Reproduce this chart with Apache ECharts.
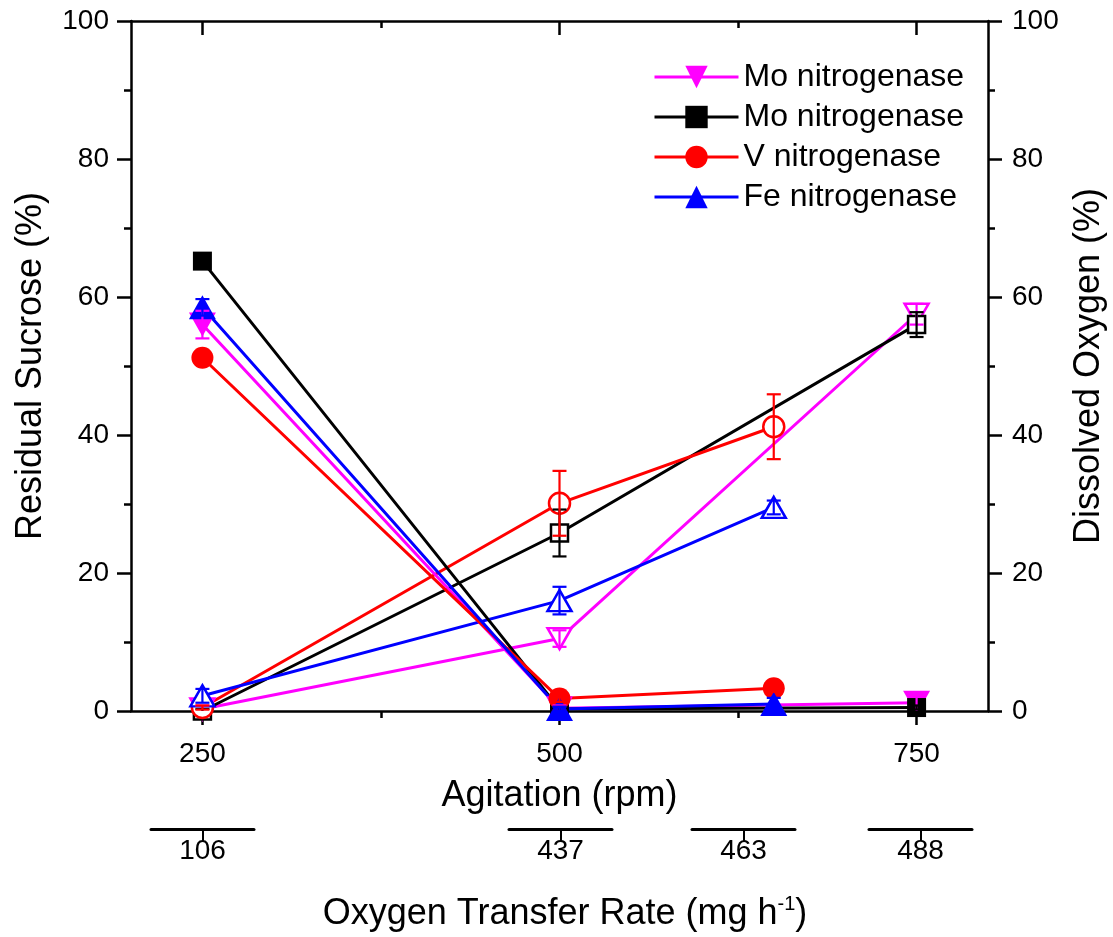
<!DOCTYPE html>
<html>
<head>
<meta charset="utf-8">
<script src="https://cdn.jsdelivr.net/npm/echarts@6/dist/echarts.min.js"></script>
<style>
  html, body { margin: 0; padding: 0; background: #fff; }
  #chart { width: 1113px; height: 937px; }
</style>
</head>
<body>
<div id="chart"></div>
<script>
// Agitation speeds (rpm) at which each culture was sampled
const rpmMoA = [250, 500, 750];
const rpmMoB = [250, 500, 750];
const rpmV   = [250, 500, 650];
const rpmFe  = [250, 500, 650];

// Residual sucrose (%), filled markers, left axis
const sucroseMoA = [56.0, 0.4, 1.2];
const sucroseMoB = [65.2, 0.3, 0.5];
const sucroseV   = [51.2, 1.8, 3.3];
const sucroseFe  = [58.5, 0.3, 1.0];
const sucroseErrMoA = [2.0, 0.4, 1.5];
const sucroseErrMoB = [0.8, 0.3, 0.3];
const sucroseErrV   = [0.5, 0.5, 0.5];
const sucroseErrFe  = [1.2, 0.3, 0.9];

// Dissolved oxygen (%), open markers, right axis
const oxygenMoA = [0.3, 10.5, 57.5];
const oxygenMoB = [0.0, 25.8, 56.0];
const oxygenV   = [0.5, 30.1, 41.2];
const oxygenFe  = [2.2, 16.0, 29.5];
const oxygenErrMoA = [0.5, 1.2, 1.5];
const oxygenErrMoB = [0.3, 3.4, 1.8];
const oxygenErrV   = [0.3, 4.7, 4.7];
const oxygenErrFe  = [1.0, 2.0, 1.0];

// Axis ticks
const rpmMajorTicks = [250, 500, 750];
const rpmMinorTicks = [375, 625];
const otrLabels = ['106', '437', '463', '488'];

const FONT = "'Liberation Sans', Arial, sans-serif";
const AXIS_W = 2.5;
const LINE_W = 3;

function pairs(xs, ys) { return xs.map((x, i) => [x, ys[i]]); }

function lineSeries(name, xs, ys, color, symbol, size, rotate, filled, yAxisIndex, z) {
  return {
    type: 'line', name, xAxisIndex: 0, yAxisIndex,
    data: pairs(xs, ys),
    symbol, symbolSize: size, symbolRotate: rotate,
    showAllSymbol: true,
    lineStyle: { color, width: LINE_W },
    itemStyle: filled
      ? { color, borderWidth: 0 }
      : { color: '#fff', borderColor: color, borderWidth: 2.5 },
    emphasis: { disabled: true },
    z, silent: true, clip: false
  };
}

function errorSeries(xs, ys, errs, color, yAxisIndex, z) {
  return {
    type: 'custom', xAxisIndex: 0, yAxisIndex,
    data: xs.map((x, i) => [x, ys[i] - errs[i], ys[i] + errs[i]]),
    encode: { x: 0, y: [1, 2] },
    clip: true, silent: true, z,
    renderItem(params, api) {
      const lo = api.coord([api.value(0), api.value(1)]);
      const hi = api.coord([api.value(0), api.value(2)]);
      const w = 7;
      const st = { stroke: color, lineWidth: 2.2 };
      return {
        type: 'group',
        children: [
          { type: 'line', shape: { x1: lo[0], y1: lo[1], x2: hi[0], y2: hi[1] }, style: st },
          { type: 'line', shape: { x1: lo[0] - w, y1: lo[1], x2: lo[0] + w, y2: lo[1] }, style: st },
          { type: 'line', shape: { x1: hi[0] - w, y1: hi[1], x2: hi[0] + w, y2: hi[1] }, style: st }
        ]
      };
    }
  };
}

const MAGENTA = '#ff00ff', BLACK = '#000000', RED = '#ff0000', BLUE = '#0000ff';

const baseX = {
  gridIndex: 0, type: 'value', min: 200, max: 800,
  splitLine: { show: false },
  axisLine: { show: true, onZero: false, lineStyle: { color: '#000', width: AXIS_W } }
};

// Oxygen transfer rate scale: short separate segments, one per label
const otrGridLefts = [151, 509, 692, 869];
const otrGrids = otrGridLefts.map(l => ({ left: l, width: 103, top: 828, height: 1, outerBoundsMode: 'none' }));
const otrXAxes = otrLabels.map((lab, i) => ({
  gridIndex: i + 1, type: 'category', data: [lab], boundaryGap: true,
  axisLine: { show: true, onZero: false, lineStyle: { color: '#000', width: 3 } },
  axisTick: { show: true, alignWithLabel: true, length: 12, lineStyle: { color: '#000', width: 2 } },
  axisLabel: { color: '#000', fontSize: 28, fontFamily: FONT, margin: 8 }
}));
const otrYAxes = otrLabels.map((lab, i) => ({ gridIndex: i + 1, type: 'value', show: false }));

const yBase = {
  gridIndex: 0, type: 'value', min: 0, max: 100, interval: 20,
  splitLine: { show: false },
  axisLine: { show: true, onZero: false, lineStyle: { color: '#000', width: AXIS_W } },
  axisTick: { show: true, inside: false, length: 14, lineStyle: { color: '#000', width: AXIS_W } },
  minorTick: { show: true, splitNumber: 2, length: 7, lineStyle: { color: '#000', width: AXIS_W } },
  axisLabel: { color: '#000', fontSize: 28, fontFamily: FONT },
  nameLocation: 'middle', nameRotate: 90,
  nameTextStyle: { color: '#000', fontSize: 36, fontFamily: FONT }
};

const option = {
  animation: false,
  backgroundColor: '#fff',
  textStyle: { fontFamily: FONT },
  grid: [{ left: 131, right: 125, top: 21, bottom: 226, containLabel: false, outerBoundsMode: 'none' }].concat(otrGrids),
  legend: {
    data: ['Mo nitrogenase', 'Mo nitrogenase ', 'V nitrogenase', 'Fe nitrogenase'],
    orient: 'vertical', left: 648, top: 56,
    itemWidth: 84, itemHeight: 28, itemGap: 8,
    lineStyle: { width: 3 },
    textStyle: { color: '#000', fontSize: 32, fontFamily: FONT },
    selectedMode: false
  },
  xAxis: [
    Object.assign({}, baseX, {
      position: 'bottom',
      axisTick: { show: true, customValues: rpmMajorTicks, length: 14, lineStyle: { color: '#000', width: AXIS_W } },
      axisLabel: { customValues: rpmMajorTicks, color: '#000', fontSize: 28, fontFamily: FONT, margin: 29 },
      name: 'Agitation (rpm)', nameLocation: 'middle', nameGap: 67,
      nameTextStyle: { color: '#000', fontSize: 36, fontFamily: FONT }
    }),
    Object.assign({}, baseX, {
      position: 'bottom', axisLine: { show: false, onZero: false },
      axisTick: { show: true, customValues: rpmMinorTicks, length: 7, lineStyle: { color: '#000', width: AXIS_W } },
      axisLabel: { show: false }
    }),
    Object.assign({}, baseX, {
      position: 'top',
      axisTick: { show: true, inside: true, customValues: rpmMajorTicks, length: 14, lineStyle: { color: '#000', width: AXIS_W } },
      axisLabel: { show: false }
    }),
    Object.assign({}, baseX, {
      position: 'top', axisLine: { show: false, onZero: false },
      axisTick: { show: true, inside: true, customValues: rpmMinorTicks, length: 7, lineStyle: { color: '#000', width: AXIS_W } },
      axisLabel: { show: false }
    })
  ].concat(otrXAxes),
  yAxis: [
    Object.assign({}, yBase, {
      position: 'left', name: 'Residual Sucrose (%)', nameGap: 82,
      axisLabel: Object.assign({}, yBase.axisLabel, { margin: 22 })
    }),
    Object.assign({}, yBase, {
      position: 'right', name: 'Dissolved Oxygen (%)', nameGap: 83,
      axisLabel: Object.assign({}, yBase.axisLabel, { margin: 24 })
    })
  ].concat(otrYAxes),
  graphic: [{
    type: 'text', x: 565, y: 914,
    style: {
      text: '{a|Oxygen Transfer Rate (mg h}{s|-1}{a|)}',
      align: 'center', verticalAlign: 'middle',
      rich: {
        a: { fontSize: 36, fontFamily: FONT, fill: '#000', lineHeight: 40 },
        s: { fontSize: 20, fontFamily: FONT, fill: '#000', verticalAlign: 'top', lineHeight: 40, padding: [0, 0, 14, 0] }
      }
    }
  }],
  series: [
    // dissolved oxygen (open markers)
    lineSeries('DO Mo A', rpmMoA, oxygenMoA, MAGENTA, 'triangle', [24, 21], 180, false, 1, 2),
    lineSeries('DO Mo B', rpmMoB, oxygenMoB, BLACK, 'rect', 17, 0, false, 1, 2),
    lineSeries('DO V', rpmV, oxygenV, RED, 'circle', 21, 0, false, 1, 2),
    lineSeries('DO Fe', rpmFe, oxygenFe, BLUE, 'triangle', [24, 21], 0, false, 1, 2),
    errorSeries(rpmMoA, oxygenMoA, oxygenErrMoA, MAGENTA, 1, 3),
    errorSeries(rpmMoB, oxygenMoB, oxygenErrMoB, BLACK, 1, 3),
    errorSeries(rpmV, oxygenV, oxygenErrV, RED, 1, 3),
    errorSeries(rpmFe, oxygenFe, oxygenErrFe, BLUE, 1, 3),
    // residual sucrose (filled markers)
    lineSeries('Mo nitrogenase', rpmMoA, sucroseMoA, MAGENTA, 'triangle', [27, 24], 180, true, 0, 4),
    lineSeries('Mo nitrogenase ', rpmMoB, sucroseMoB, BLACK, 'rect', 19, 0, true, 0, 4),
    lineSeries('V nitrogenase', rpmV, sucroseV, RED, 'circle', 22, 0, true, 0, 4),
    lineSeries('Fe nitrogenase', rpmFe, sucroseFe, BLUE, 'triangle', [27, 24], 0, true, 0, 4),
    errorSeries(rpmMoA, sucroseMoA, sucroseErrMoA, MAGENTA, 0, 5),
    errorSeries(rpmMoB, sucroseMoB, sucroseErrMoB, BLACK, 0, 5),
    errorSeries(rpmV, sucroseV, sucroseErrV, RED, 0, 5),
    errorSeries(rpmFe, sucroseFe, sucroseErrFe, BLUE, 0, 5)
  ]
};

const chart = echarts.init(document.getElementById('chart'), null, { renderer: 'canvas' });
chart.setOption(option);
</script>
</body>
</html>
